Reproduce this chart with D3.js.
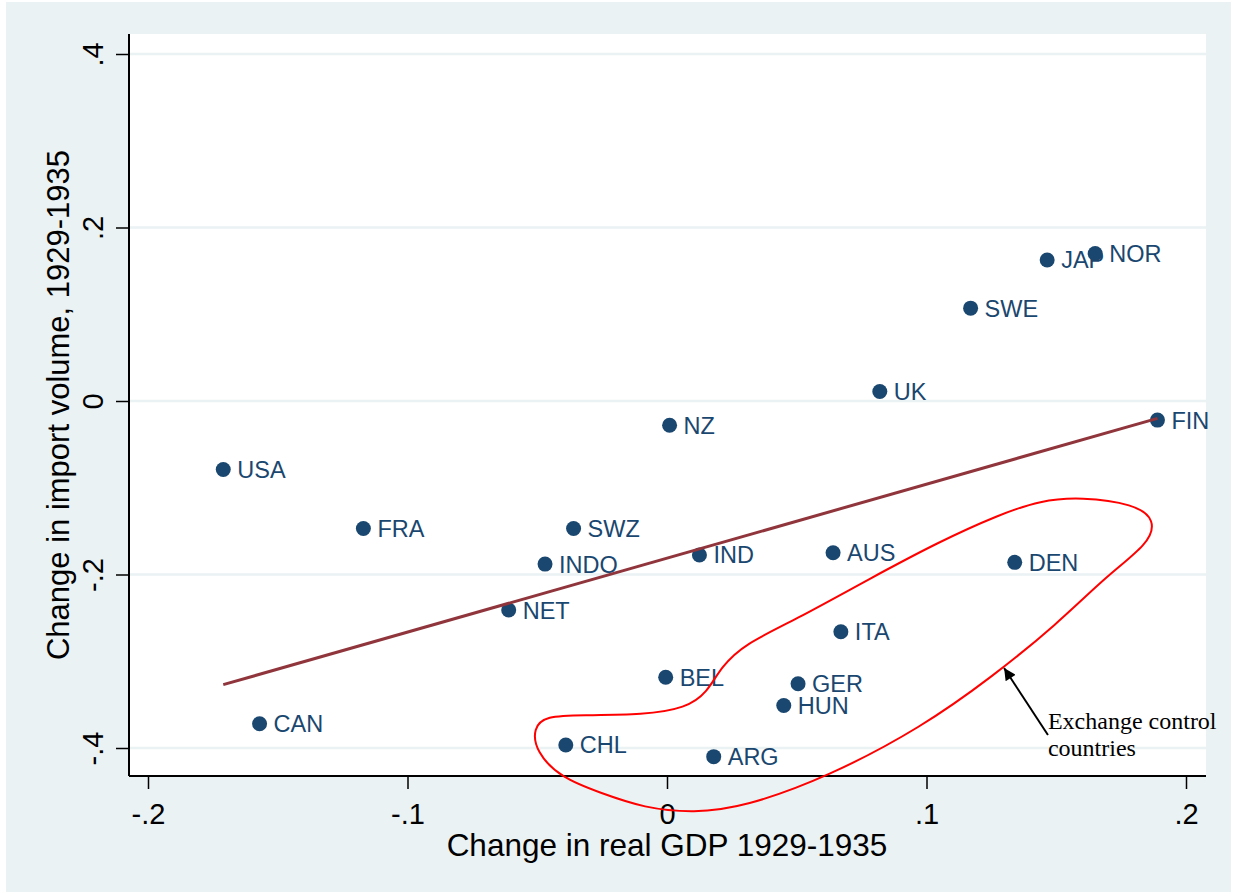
<!DOCTYPE html>
<html>
<head>
<meta charset="utf-8">
<script src="https://cdn.jsdelivr.net/npm/d3@7"></script>
<style>
  body { margin: 0; background: #fff; }
  svg { display: block; }
</style>
</head>
<body>
<div id="chart"></div>
<script>
// country points: change in real GDP vs change in import volume, 1929-1935
const countries = ["USA", "FRA", "CAN", "SWZ", "INDO", "NET", "NZ", "IND", "BEL", "CHL", "ARG",
  "AUS", "ITA", "GER", "HUN", "DEN", "UK", "SWE", "JAP", "NOR", "FIN"];
const gdpChange = [-0.171, -0.117, -0.157, -0.036, -0.047, -0.061, 0.001, 0.0125, -0.0005, -0.039, 0.018,
  0.064, 0.067, 0.0505, 0.045, 0.134, 0.082, 0.117, 0.1465, 0.165, 0.189];
const importChange = [-0.079, -0.147, -0.372, -0.147, -0.188, -0.241, -0.028, -0.1775, -0.3185, -0.3965, -0.410,
  -0.175, -0.266, -0.326, -0.351, -0.186, 0.011, 0.107, 0.1625, 0.170, -0.022];

// fitted line endpoints
const fitX = [-0.171, 0.189];
const fitY = [-0.327, -0.020];

const xTicks = [-0.2, -0.1, 0, 0.1, 0.2];
const yTicks = [-0.4, -0.2, 0, 0.2, 0.4];
const tickFmt = v => v === 0 ? "0" : (v < 0 ? "-" : "") + String(Math.abs(v)).replace(/^0/, "");

// hand-drawn loop around exchange control countries (data units)
const loopX = [0.1595, 0.1800, 0.1884, 0.1855, 0.1700, 0.1500, 0.1252, 0.0983, 0.0620, 0.0297, 0.0104,
  -0.0089, -0.0254, -0.0408, -0.0505, -0.0516, -0.0466, -0.0331, -0.0089, 0.0073, 0.0154, 0.0208,
  0.0300, 0.0490, 0.0780, 0.1050, 0.1280, 0.1440];
const loopY = [-0.1107, -0.1185, -0.1370, -0.1650, -0.2000, -0.2580, -0.3182, -0.3758, -0.4334, -0.4680, -0.4749,
  -0.4692, -0.4519, -0.4346, -0.4046, -0.3769, -0.3631, -0.3620, -0.3620, -0.3539, -0.3366, -0.3066,
  -0.2800, -0.2530, -0.2050, -0.1620, -0.1310, -0.1145];

const noteLines = ["Exchange control", "countries"];
const noteAt = [0.1468, -0.378];
const arrowFrom = [0.1468, -0.385];
const arrowTo = [0.1299, -0.3078];

const W = 1233, H = 894;
const plot = { left: 129, top: 34, right: 1206, bottom: 776 };
const bg = "rgb(234,242,243)";
const navy = "#1a476f";

const svg = d3.select("#chart").append("svg")
  .attr("width", W)
  .attr("height", H)
  .style("font-family", "'Liberation Sans', Arial, sans-serif");

svg.append("rect")
  .attr("x", 6).attr("y", 2)
  .attr("width", W - 8).attr("height", H - 4)
  .attr("fill", bg);

svg.append("rect")
  .attr("x", plot.left).attr("y", plot.top)
  .attr("width", plot.right - plot.left).attr("height", plot.bottom - plot.top)
  .attr("fill", "#fff");

const x = d3.scaleLinear().domain([-0.2, 0.2]).range([148, 1186]);
const y = d3.scaleLinear().domain([-0.4, 0.4]).range([748, 54]);

// gridlines
svg.append("g")
  .selectAll("line")
  .data(yTicks)
  .enter()
  .append("line")
  .attr("x1", plot.left).attr("x2", plot.right)
  .attr("y1", d => y(d)).attr("y2", d => y(d))
  .attr("stroke", bg)
  .attr("stroke-width", 2.5);

// axes
const yAxis = svg.append("g")
  .attr("transform", `translate(${plot.left},0)`)
  .call(d3.axisLeft(y).tickValues(yTicks).tickSize(13).tickSizeOuter(0).tickFormat(tickFmt));
yAxis.select(".domain").attr("d", `M0,${plot.top}V${plot.bottom}`).attr("stroke", "#000").attr("stroke-width", 2);
yAxis.selectAll(".tick line").attr("stroke", "#000").attr("stroke-width", 1.5);
yAxis.selectAll(".tick text")
  .attr("x", null).attr("dy", null)
  .attr("transform", "translate(-26,0) rotate(-90)")
  .attr("text-anchor", "middle")
  .style("font-size", "29px")
  .style("fill", "#000");

const xAxis = svg.append("g")
  .attr("transform", `translate(0,${plot.bottom})`)
  .call(d3.axisBottom(x).tickValues(xTicks).tickSize(13).tickSizeOuter(0).tickFormat(tickFmt));
xAxis.select(".domain").attr("d", `M${plot.left},0H${plot.right}`).attr("stroke", "#000").attr("stroke-width", 2);
xAxis.selectAll(".tick line").attr("stroke", "#000").attr("stroke-width", 1.5);
xAxis.selectAll(".tick text")
  .attr("y", 48).attr("dy", null)
  .style("font-size", "29px")
  .style("fill", "#000");

svg.append("text")
  .attr("x", 667)
  .attr("y", 856)
  .attr("text-anchor", "middle")
  .style("font-size", "31.5px")
  .style("fill", "#000")
  .text("Change in real GDP 1929-1935");

svg.append("text")
  .attr("transform", `translate(69,${(plot.top + plot.bottom) / 2}) rotate(-90)`)
  .attr("text-anchor", "middle")
  .style("font-size", "31px")
  .style("fill", "#000")
  .text("Change in import volume, 1929-1935");

const points = countries.map((c, i) => ({ name: c, gdp: gdpChange[i], imp: importChange[i] }));

// labels first, markers drawn over them
svg.append("g")
  .selectAll("text")
  .data(points)
  .enter()
  .append("text")
  .attr("x", d => x(d.gdp) + 14)
  .attr("y", d => y(d.imp))
  .attr("dy", "0.36em")
  .style("font-size", "23.5px")
  .style("fill", navy)
  .text(d => d.name);

svg.append("g")
  .selectAll("circle")
  .data(points)
  .enter()
  .append("circle")
  .attr("cx", d => x(d.gdp))
  .attr("cy", d => y(d.imp))
  .attr("r", 7.5)
  .attr("fill", navy);

// fitted line
svg.append("path")
  .datum(fitX.map((v, i) => [v, fitY[i]]))
  .attr("fill", "none")
  .attr("stroke", "#90353b")
  .attr("stroke-width", 3)
  .attr("d", d3.line().x(d => x(d[0])).y(d => y(d[1])));

// annotation loop
svg.append("path")
  .datum(loopX.map((v, i) => [v, loopY[i]]))
  .attr("fill", "none")
  .attr("stroke", "#ff0000")
  .attr("stroke-width", 2)
  .attr("d", d3.line().curve(d3.curveBasisClosed).x(d => x(d[0])).y(d => y(d[1])));

svg.append("defs").append("marker")
  .attr("id", "arrow")
  .attr("viewBox", "0 0 10 10")
  .attr("refX", 10).attr("refY", 5)
  .attr("markerWidth", 8).attr("markerHeight", 6)
  .attr("markerUnits", "strokeWidth")
  .attr("orient", "auto")
  .append("path")
  .attr("d", "M0,0L10,5L0,10z")
  .attr("fill", "#000");

svg.append("line")
  .attr("x1", x(arrowFrom[0])).attr("y1", y(arrowFrom[1]))
  .attr("x2", x(arrowTo[0])).attr("y2", y(arrowTo[1]))
  .attr("stroke", "#000")
  .attr("stroke-width", 2)
  .attr("marker-end", "url(#arrow)");

svg.append("g")
  .selectAll("text")
  .data(noteLines)
  .enter()
  .append("text")
  .attr("x", x(noteAt[0]))
  .attr("y", (d, i) => y(noteAt[1]) + i * 27)
  .style("font-family", "'Liberation Serif', 'Times New Roman', serif")
  .style("font-size", "24px")
  .style("fill", "#000")
  .text(d => d);
</script>
</body>
</html>
